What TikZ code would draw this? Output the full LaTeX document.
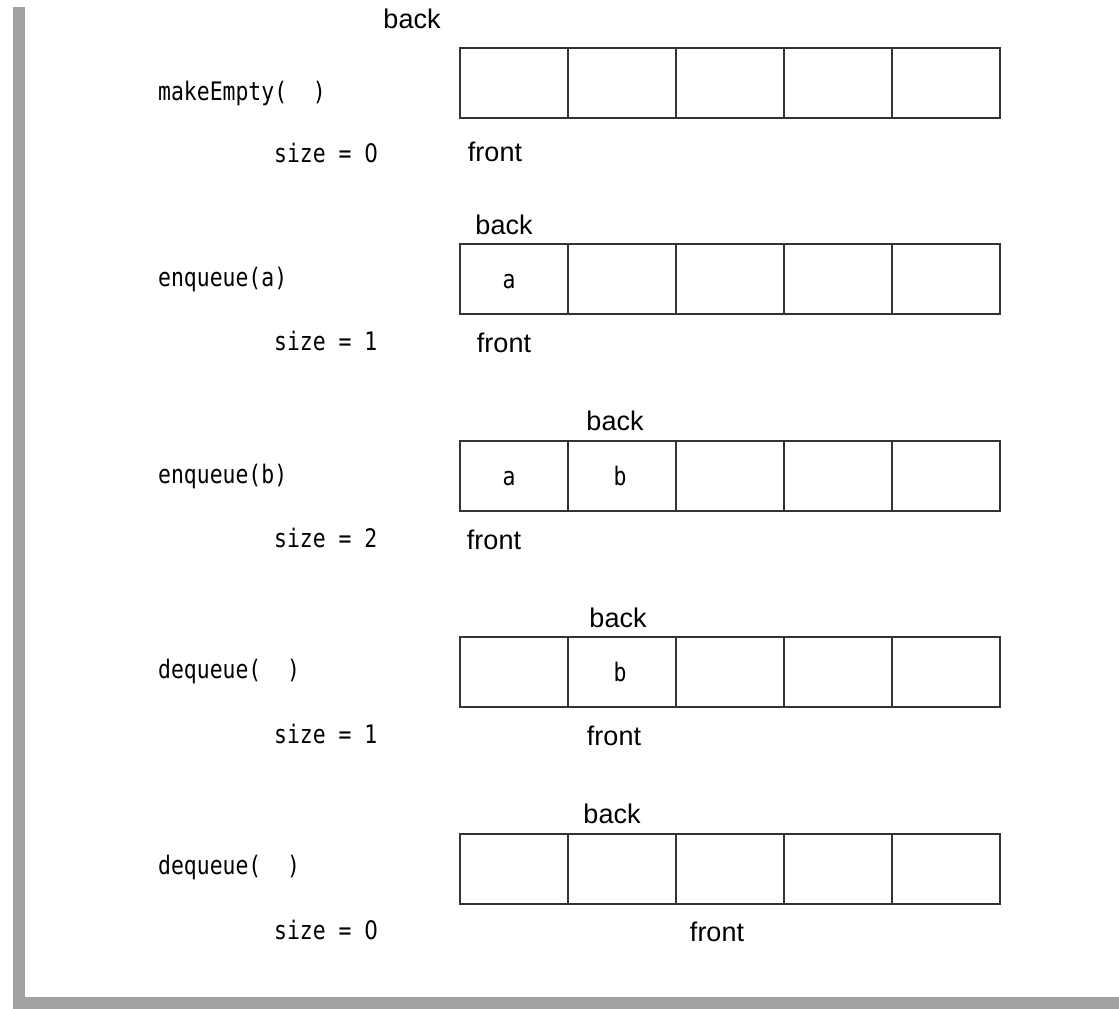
\documentclass[tikz,border=0pt]{standalone}
\usepackage{fontspec}
\setmainfont{Liberation Sans}
\newfontfamily\codefont[FakeStretch=0.84]{DejaVu Sans Mono}
\newfontfamily\zerofont[FakeStretch=0.84]{DejaVu Sans}
\newcommand{\plainzero}{{\zerofont 0}}
\begin{document}
\begin{tikzpicture}[x=1pt,y=-1pt,
  cell/.style={draw=black!80,line width=1.5pt,minimum width=108pt,minimum height=70pt,inner sep=0pt,outer sep=0pt,anchor=north west},
  ptr/.style={font=\fontsize{27}{30}\selectfont,anchor=base,inner sep=0pt},
  code/.style={font=\codefont\fontsize{25.5}{28}\selectfont,anchor=base west,inner sep=0pt},
  val/.style={font=\codefont\fontsize{25.5}{28}\selectfont,anchor=base,inner sep=0pt},
  frame/.style={fill=black!37,draw=none}]
\useasboundingbox (0,0) rectangle (1119,1009);
\fill[frame] (13,7) rectangle (25,1009);
\fill[frame] (13,997) rectangle (1119,1009);
% rows of cells
\foreach \r/\T in {1/48,2/244,3/441,4/637,5/834}{
  \foreach \i in {0,...,4}{
    \node[cell] (c\r\i) at (460+108*\i,\T) {};
  }
}
% cell contents
\path (c20.center) ++(-5,9) node[val] (v20) {a};
\path (c30.center) ++(-5,9) node[val] (v30) {a};
\path (c31.center) ++(-2,9) node[val] (v31) {b};
\path (c41.center) ++(-2,9) node[val] (v41) {b};
% row 1
\node[ptr] (b1) at (412,28) {back};
\node[code] (op1) at (158,100) {makeEmpty(\ \ )};
\node[code] (s1) at (274,162) {size = \plainzero};
\node[ptr] (f1) at (495,161) {front};
% row 2
\node[ptr] (b2) at (504,234) {back};
\node[code] (op2) at (158,286) {enqueue(a)};
\node[code] (s2) at (274,350) {size = 1};
\node[ptr] (f2) at (504,352) {front};
% row 3
\node[ptr] (b3) at (615,430) {back};
\node[code] (op3) at (158,483) {enqueue(b)};
\node[code] (s3) at (274,547) {size = 2};
\node[ptr] (f3) at (494,549) {front};
% row 4
\node[ptr] (b4) at (618,627) {back};
\node[code] (op4) at (158,678) {dequeue(\ \ )};
\node[code] (s4) at (274,743) {size = 1};
\node[ptr] (f4) at (614,745) {front};
% row 5
\node[ptr] (b5) at (612,823) {back};
\node[code] (op5) at (158,874) {dequeue(\ \ )};
\node[code] (s5) at (274,939) {size = \plainzero};
\node[ptr] (f5) at (717,941) {front};
\end{tikzpicture}
\end{document}
